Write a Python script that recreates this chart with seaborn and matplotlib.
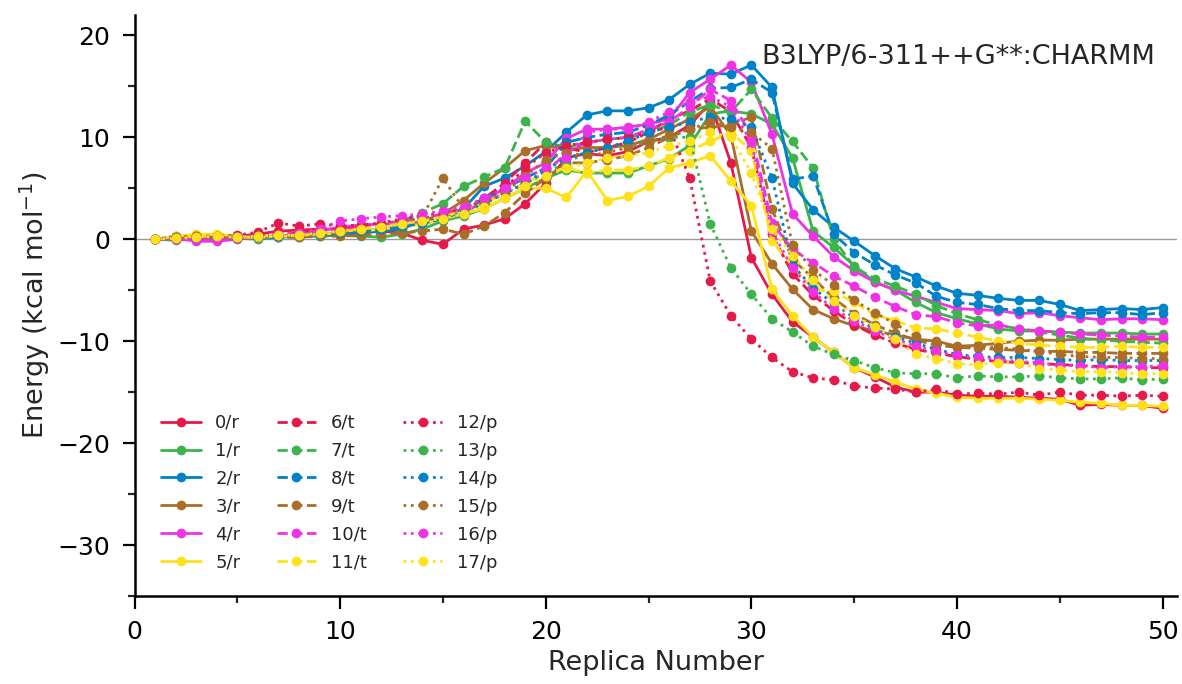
import matplotlib
matplotlib.use("Agg")
import matplotlib.pyplot as plt
from matplotlib.ticker import MultipleLocator
import seaborn as sns

replicas = list(range(1, 51))

labels = ["0/r", "1/r", "2/r", "3/r", "4/r", "5/r",
          "6/t", "7/t", "8/t", "9/t", "10/t", "11/t",
          "12/p", "13/p", "14/p", "15/p", "16/p", "17/p"]
palette = ["#e6194b", "#3cb44b", "#0082c8", "#aa6e28", "#f032e6", "#ffe119"]
line_styles = {"r": "-", "t": "--", "p": ":"}

e0 = [0.0, 0.1, 0.2, 0.2, 0.3, 0.5, 0.8, 0.9, 1.0, 1.0, 0.9, 0.8, 0.6,
      -0.1, -0.5, 1.0, 1.4, 2.0, 3.5, 5.5, 8.0, 8.4, 8.2, 8.6, 9.6, 10.0, 11.2, 13.4,
      7.5, -1.8, -5.4, -8.1, -9.6, -11.1, -12.6, -13.5, -14.5, -15.0,
      -15.0, -15.3, -15.4, -15.4, -15.5, -15.6, -15.7, -16.3, -16.2, -16.3, -16.3, -16.6]
e1 = [0.0, -0.1, 0.0, 0.1, 0.1, 0.0, 0.2, 0.3, 0.3, 0.4, 0.3, 0.2, 0.5,
      1.0, 1.8, 2.3, 3.0, 4.0, 5.0, 6.0, 6.8, 6.5, 6.5, 6.5, 7.2, 7.9, 9.2, 12.3,
      12.6, 12.3, 11.3, 8.0, 0.8, -0.8, -2.6, -4.2, -5.0, -6.2,
      -7.2, -7.8, -8.3, -8.8, -9.0, -9.0, -9.1, -9.2, -9.2, -9.2, -9.3, -9.3]
e2 = [0.0, 0.3, 0.2, 0.1, 0.2, 0.1, 0.2, 0.3, 0.4, 0.5, 0.6, 0.8, 1.0,
      1.8, 2.2, 3.0, 5.2, 6.0, 7.2, 8.6, 10.5, 12.2, 12.6, 12.6, 12.9, 13.7, 15.2, 16.3,
      16.2, 17.1, 14.9, 5.5, 2.9, 1.2, -0.2, -1.6, -2.9, -3.7,
      -4.6, -5.3, -5.5, -5.8, -6.0, -6.0, -6.4, -7.0, -6.9, -6.8, -6.9, -6.7]
e3 = [0.0, 0.1, 0.2, 0.1, 0.2, 0.2, 0.3, 0.3, 0.5, 0.6, 0.8, 1.0, 1.3,
      1.8, 2.5, 3.8, 5.5, 7.0, 8.7, 9.2, 8.8, 9.0, 9.0, 9.2, 9.8, 10.8, 11.8, 13.0,
      10.2, 0.8, -2.4, -4.9, -6.9, -7.8, -8.5, -9.0, -9.4, -9.8,
      -10.0, -10.5, -10.4, -10.2, -10.0, -9.9, -9.9, -9.8, -9.8, -9.8, -9.8, -9.8]
e4 = [0.0, 0.1, -0.2, -0.2, 0.0, 0.2, 0.3, 0.5, 0.8, 1.2, 1.4, 1.5, 1.5,
      1.5, 2.0, 2.5, 3.8, 5.0, 6.5, 7.5, 9.9, 10.8, 10.8, 11.0, 11.3, 11.8, 14.4, 15.7,
      17.1, 15.4, 10.3, 2.5, 0.3, -1.7, -3.1, -4.2, -5.0, -5.6,
      -6.2, -6.8, -6.9, -7.0, -7.3, -7.2, -7.5, -7.7, -7.9, -7.8, -7.8, -7.9]
e5 = [0.0, 0.3, 0.5, 0.5, 0.3, 0.2, 0.3, 0.3, 0.5, 0.6, 0.8, 1.0, 1.2,
      1.5, 2.0, 2.5, 3.0, 4.0, 5.0, 5.0, 4.1, 6.7, 3.8, 4.2, 5.2, 7.0, 7.5, 8.2,
      5.7, 3.3, -4.9, -7.5, -9.6, -11.1, -12.6, -13.3, -14.0, -14.7,
      -15.1, -15.5, -15.6, -15.6, -15.6, -15.7, -15.8, -16.0, -16.1, -16.3, -16.3, -16.4]
e6 = [0.0, 0.1, 0.2, 0.2, 0.3, 0.4, 0.5, 0.6, 0.8, 1.0, 1.2, 1.5, 1.8,
      2.0, 2.5, 3.0, 4.0, 5.5, 7.5, 9.5, 9.0, 8.5, 9.0, 9.5, 10.5, 11.8, 12.6, 13.8,
      12.5, 9.0, 0.5, -3.4, -5.5, -7.0, -8.4, -9.4, -10.2, -10.8,
      -11.2, -11.5, -11.8, -12.0, -12.1, -12.2, -12.3, -12.4, -12.5, -12.5, -12.6, -12.6]
e7 = [0.0, 0.1, 0.2, 0.2, 0.3, 0.2, 0.4, 0.5, 0.6, 0.8, 1.0, 1.3, 1.8,
      2.6, 3.5, 5.2, 6.1, 7.0, 11.6, 9.5, 9.0, 9.5, 9.8, 10.0, 10.5, 11.2, 12.5, 13.2,
      12.5, 14.7, 11.9, 9.6, 7.0, 0.0, -2.7, -3.9, -4.6, -5.4,
      -6.5, -7.3, -7.9, -8.4, -8.8, -9.1, -9.4, -9.7, -9.9, -10.0, -10.1, -10.2]
e8 = [0.0, 0.2, 0.1, 0.2, 0.1, 0.2, 0.3, 0.2, 0.4, 0.5, 0.7, 0.9, 1.2,
      1.6, 2.0, 2.8, 4.0, 5.0, 6.0, 7.0, 9.5, 10.0, 10.3, 10.5, 11.2, 12.2, 13.5, 14.8,
      14.9, 15.7, 14.4, 5.9, 6.2, 0.5, -1.3, -2.5, -3.5, -4.3,
      -5.6, -6.2, -6.4, -6.8, -7.0, -7.0, -7.2, -7.3, -7.2, -7.2, -7.4, -7.2]
e9 = [0.0, 0.0, 0.1, 0.1, 0.1, 0.2, 0.2, 0.2, 0.3, 0.3, 0.4, 0.5, 0.6,
      0.8, 1.0, 0.5, 1.3, 2.6, 4.5, 6.0, 7.5, 7.5, 7.8, 8.2, 9.0, 10.0, 10.8, 11.0,
      11.2, 12.0, 3.0, -2.0, -3.8, -5.8, -7.3, -8.4, -9.2, -9.9,
      -10.4, -10.6, -10.7, -10.8, -10.9, -11.0, -11.0, -11.1, -11.1, -11.2, -11.2, -11.2]
e10 = [0.0, 0.1, 0.1, 0.2, 0.2, 0.3, 0.4, 0.5, 0.7, 0.9, 1.1, 1.4, 1.7,
       2.0, 2.4, 3.0, 3.6, 4.5, 5.5, 6.5, 8.5, 9.5, 9.8, 10.0, 10.8, 11.5, 13.0, 14.7,
       13.6, 10.2, 1.6, -1.0, -2.3, -3.6, -4.6, -5.7, -6.6, -7.4,
       -7.6, -8.2, -8.5, -8.4, -8.8, -9.0, -9.1, -9.3, -9.4, -9.5, -9.6, -9.6]
e11 = [0.0, 0.2, 0.3, 0.3, 0.2, 0.2, 0.3, 0.4, 0.5, 0.7, 1.0, 1.3, 1.5,
       1.8, 2.2, 2.8, 3.5, 4.5, 5.5, 6.5, 7.0, 6.5, 6.8, 6.8, 7.2, 8.0, 8.7, 9.6,
       10.5, 8.7, -0.2, -2.6, -4.9, -5.1, -6.2, -7.4, -8.0, -8.7,
       -8.8, -9.2, -9.6, -10.0, -10.2, -10.4, -10.5, -10.6, -10.6, -10.5, -10.6, -10.6]
e12 = [0.0, 0.2, 0.3, 0.3, 0.4, 0.7, 1.6, 1.3, 1.5, 1.3, 1.4, 1.6, 2.0,
       2.3, 2.6, 3.0, 3.8, 5.0, 7.0, 8.5, 9.2, 9.5, 9.8, 10.0, 10.5, 11.0, 6.0, -4.1,
       -7.5, -9.8, -11.6, -13.0, -13.6, -13.8, -14.4, -14.6, -14.7, -15.0,
       -14.7, -15.2, -15.1, -15.2, -15.0, -15.3, -15.0, -15.3, -15.3, -15.4, -15.3, -15.4]
e13 = [0.0, 0.1, 0.1, 0.2, 0.2, 0.3, 0.3, 0.4, 0.5, 0.6, 0.8, 1.0, 1.3,
       1.6, 2.0, 2.8, 3.5, 4.5, 5.5, 6.5, 7.5, 8.5, 9.0, 9.2, 9.5, 10.0, 10.0, 1.5,
       -2.8, -5.4, -7.8, -9.1, -10.5, -11.3, -11.9, -12.6, -13.1, -13.2,
       -13.2, -13.6, -13.4, -13.5, -13.5, -13.4, -13.6, -13.7, -13.7, -13.6, -13.8, -13.7]
e14 = [0.0, 0.1, 0.1, 0.2, 0.2, 0.3, 0.3, 0.4, 0.5, 0.6, 0.8, 1.0, 1.3,
       1.6, 2.0, 2.5, 3.5, 4.5, 5.5, 6.8, 8.0, 8.5, 9.0, 9.6, 10.5, 11.0, 11.5, 12.0,
       11.8, 11.0, 6.0, -2.5, -4.8, -6.3, -7.7, -8.8, -9.6, -10.2,
       -10.8, -11.3, -11.5, -11.6, -11.6, -11.7, -11.8, -11.9, -11.8, -11.9, -11.9, -11.9]
e15 = [0.0, 0.2, 0.3, 0.3, 0.2, 0.3, 0.4, 0.5, 0.6, 0.7, 0.9, 1.2, 1.6,
       2.2, 6.0, 3.0, 3.6, 4.6, 6.2, 7.8, 8.5, 8.2, 8.5, 9.0, 9.5, 10.2, 10.8, 11.5,
       11.0, 10.5, 8.9, -0.6, -3.0, -4.5, -6.0, -7.2, -8.3, -9.5,
       -10.3, -10.6, -10.5, -10.6, -10.8, -11.0, -11.3, -11.5, -11.6, -11.6, -11.7, -11.7]
e16 = [0.0, 0.0, 0.1, 0.1, 0.2, 0.3, 0.4, 0.6, 1.0, 1.8, 2.0, 2.2, 2.3,
       2.5, 2.8, 3.2, 4.0, 5.0, 6.0, 7.0, 8.0, 10.5, 10.8, 10.8, 11.5, 12.5, 13.5, 14.0,
       13.0, 9.5, 0.8, -2.8, -5.2, -6.8, -8.0, -9.0, -9.8, -10.5,
       -11.0, -11.4, -11.6, -11.8, -12.0, -12.1, -12.4, -12.4, -12.6, -12.5, -12.5, -12.4]
e17 = [0.0, 0.1, 0.2, 0.3, 0.2, 0.3, 0.4, 0.4, 0.6, 0.8, 1.0, 1.2, 1.5,
       1.8, 2.0, 2.5, 3.2, 4.0, 5.2, 6.2, 7.0, 7.5, 8.0, 8.2, 8.5, 9.2, 9.6, 10.5,
       10.0, 6.5, 1.0, -1.6, -4.0, -6.1, -7.5, -8.6, -9.8, -11.3,
       -11.7, -12.2, -12.3, -12.1, -12.1, -12.7, -12.8, -13.0, -13.0, -13.1, -13.2, -13.2]

series = [e0, e1, e2, e3, e4, e5, e6, e7, e8, e9, e10, e11,
          e12, e13, e14, e15, e16, e17]

sns.set_style("ticks")
plt.rcParams["font.family"] = ["DejaVu Sans"]

fig, ax = plt.subplots(figsize=(11.82, 6.84), dpi=100)
fig.subplots_adjust(left=0.1138, right=0.9958, bottom=0.1287, top=0.978)

ax.axhline(0, color="#9a9a9a", lw=1.0, zorder=0)

for i, (lab, vals) in enumerate(zip(labels, series)):
    col = palette[i % 6]
    sns.lineplot(x=replicas, y=vals, ax=ax, color=col,
                 linestyle=line_styles[lab.split("/")[1]],
                 marker="o", markersize=7, markeredgewidth=0,
                 markeredgecolor=col, linewidth=2.0, label=lab, sort=False)

ax.set_xlim(0, 50.7)
ax.set_ylim(-35, 22)
ax.xaxis.set_major_locator(MultipleLocator(10))
ax.xaxis.set_minor_locator(MultipleLocator(5))
ax.yaxis.set_major_locator(MultipleLocator(10))
ax.yaxis.set_minor_locator(MultipleLocator(5))
ax.tick_params(which="major", direction="out", length=9, width=1.6,
               labelsize=18, colors="black", pad=8.5)
ax.tick_params(which="minor", direction="out", length=5, width=1.6)
sns.despine(ax=ax)
for sp in ("left", "bottom"):
    ax.spines[sp].set_linewidth(1.8)
    ax.spines[sp].set_color("black")

ax.set_xlabel("Replica Number", fontsize=19.5, labelpad=4)
ax.set_ylabel(r"Energy (kcal mol$^{-1}$)", fontsize=19.5, labelpad=4)

ax.text(0.979, 0.928, "B3LYP/6-311++G**:CHARMM", transform=ax.transAxes,
        ha="right", va="center", fontsize=19.5)

ax.legend(ncol=3, frameon=False, loc="lower left", bbox_to_anchor=(0.01, 0.014),
          fontsize=13, handlelength=2.2, handletextpad=0.8,
          columnspacing=2.0, labelspacing=0.55)

fig.savefig("out.png", dpi=100)
